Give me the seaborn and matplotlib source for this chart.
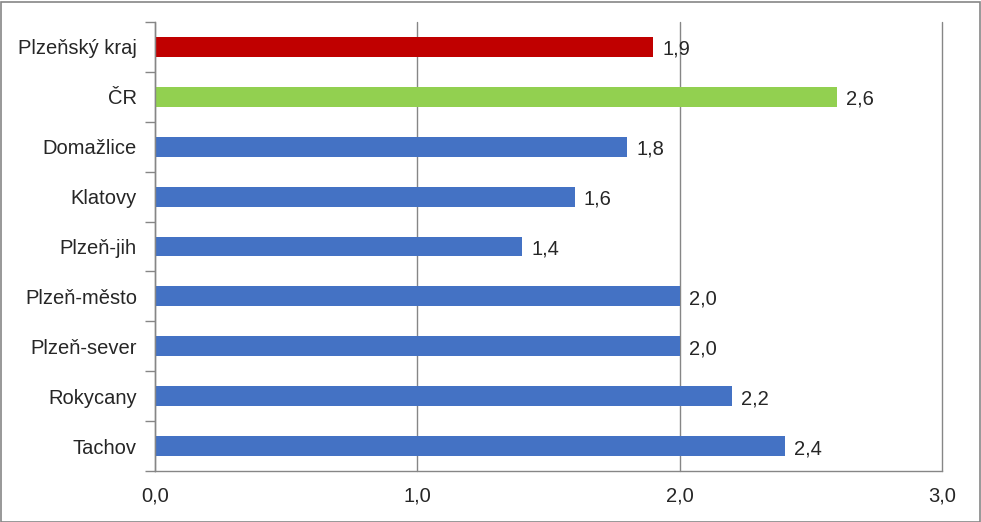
import matplotlib
matplotlib.use("Agg")
import matplotlib.pyplot as plt
import seaborn as sns
import pandas as pd
import numpy as np
from matplotlib.ticker import FixedLocator, FuncFormatter
from matplotlib.patches import Rectangle

# Data
regions = ["Plzeňský kraj", "ČR", "Domažlice", "Klatovy", "Plzeň-jih",
           "Plzeň-město", "Plzeň-sever", "Rokycany", "Tachov"]
values = [1.9, 2.6, 1.8, 1.6, 1.4, 2.0, 2.0, 2.2, 2.4]
colors = ["#C00000", "#92D050"] + ["#4472C4"] * 7

df = pd.DataFrame({"region": regions, "value": values})

sns.set_style("white")
plt.rcParams["font.family"] = ["Liberation Sans", "DejaVu Sans"]

fig = plt.figure(figsize=(9.81, 5.22), dpi=100)
ax = fig.add_axes([155 / 981, 51 / 522, 787 / 981, 449 / 522])

sns.barplot(data=df, x="value", y="region", hue="region", palette=colors,
            orient="h", width=0.4, legend=False, ax=ax, saturation=1,
            linewidth=0)

ax.set_xlim(0, 3)
ax.set_ylim(len(regions) - 0.5, -0.5)
ax.set_xticks([0, 1, 2, 3])
ax.xaxis.set_major_formatter(FuncFormatter(lambda v, p: f"{v:.1f}".replace(".", ",")))
ax.grid(axis="x", color="#868686", linewidth=1)
ax.set_axisbelow(True)
for gl in ax.get_xgridlines():
    gl.set_clip_on(False)

for s in ["top", "right"]:
    ax.spines[s].set_visible(False)
for s in ["left", "bottom"]:
    ax.spines[s].set_color("#868686")
    ax.spines[s].set_linewidth(1)

ax.yaxis.set_minor_locator(FixedLocator(np.arange(-0.5, len(regions), 1)))
ax.tick_params(axis="y", which="major", length=0, pad=13, labelsize=14.5)
ax.tick_params(axis="y", which="minor", length=7, color="#868686", width=1, left=True)
ax.tick_params(axis="x", which="major", length=0, pad=11, labelsize=14.5)
ax.xaxis.set_minor_locator(FixedLocator([0]))
ax.tick_params(axis="x", which="minor", length=4, color="#868686", width=1, bottom=True)
ax.set_xlabel("")
ax.set_ylabel("")

for i, v in enumerate(values):
    ax.text(v + 0.035, i + 0.05, f"{v:.1f}".replace(".", ","), va="center", ha="left", fontsize=14.5)

fig.add_artist(Rectangle((0.5 / 981, 0.5 / 522), 979 / 981, 520 / 522,
                         transform=fig.transFigure, fill=False,
                         edgecolor="#868686", linewidth=1.2))

fig.savefig("out.png", dpi=100)
